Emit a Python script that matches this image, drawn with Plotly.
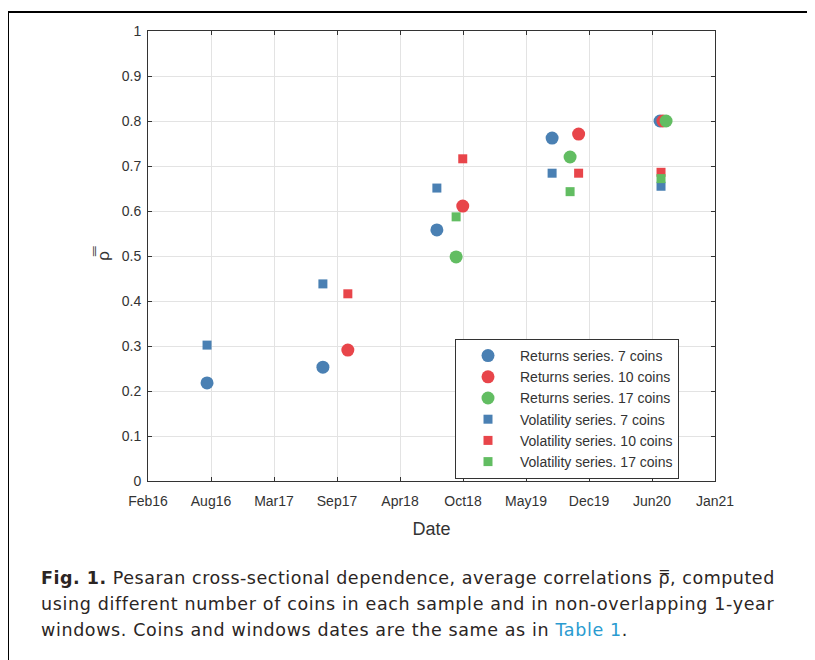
import plotly.graph_objects as go
import pandas as pd

# ---- data ----
ret7_dates = ["2016-08-06", "2017-08-08", "2018-08-04", "2019-08-04", "2020-07-11"]
ret7_vals = [0.218, 0.253, 0.558, 0.762, 0.800]
ret10_dates = ["2017-10-26", "2018-10-25", "2019-10-27", "2020-07-20"]
ret10_vals = [0.291, 0.611, 0.771, 0.800]
ret17_dates = ["2018-10-04", "2019-09-30", "2020-07-30"]
ret17_vals = [0.498, 0.720, 0.800]
vol7_dates = ["2016-08-06", "2017-08-08", "2018-08-04", "2019-08-04", "2020-07-14"]
vol7_vals = [0.302, 0.438, 0.651, 0.684, 0.655]
vol10_dates = ["2017-10-26", "2018-10-25", "2019-10-27", "2020-07-14"]
vol10_vals = [0.416, 0.716, 0.684, 0.686]
vol17_dates = ["2018-10-04", "2019-09-30", "2020-07-14"]
vol17_vals = [0.587, 0.643, 0.672]

x_tick_labels = ["Feb16", "Aug16", "Mar17", "Sep17", "Apr18", "Oct18",
                 "May19", "Dec19", "Jun20", "Jan21"]
x_start, x_end = "2016-02-01", "2021-01-01"

BLUE = "#4a80b3"
RED = "#e8454a"
GREEN = "#62bd62"
AX = "#333333"
FONT = "Liberation Sans, Arial, sans-serif"

series = [
    ("Returns series. 7 coins", ret7_dates, ret7_vals, BLUE, "circle", 13),
    ("Returns series. 10 coins", ret10_dates, ret10_vals, RED, "circle", 13),
    ("Returns series. 17 coins", ret17_dates, ret17_vals, GREEN, "circle", 13),
    ("Volatility series. 7 coins", vol7_dates, vol7_vals, BLUE, "square", 9),
    ("Volatility series. 10 coins", vol10_dates, vol10_vals, RED, "square", 9),
    ("Volatility series. 17 coins", vol17_dates, vol17_vals, GREEN, "square", 9),
]

fig = go.Figure()
for name, xs, ys, col, sym, size in series:
    fig.add_trace(go.Scatter(
        x=pd.to_datetime(xs), y=ys, mode="markers", name=name,
        marker=dict(color=col, symbol=sym, size=size, line=dict(width=0)),
    ))

tickvals = pd.date_range(x_start, x_end, periods=len(x_tick_labels))

fig.update_xaxes(
    type="date", range=[x_start, x_end],
    tickmode="array", tickvals=tickvals, ticktext=x_tick_labels,
    showline=True, linecolor=AX, linewidth=1, mirror="ticks",
    ticks="inside", ticklen=4, tickcolor=AX, ticklabelstandoff=7,
    showgrid=True, gridcolor="#e3e3e3", gridwidth=1, zeroline=False,
    tickfont=dict(family=FONT, size=14, color=AX),
    title=dict(text="Date", font=dict(family=FONT, size=18, color=AX), standoff=14),
)
fig.update_yaxes(
    range=[0, 1], dtick=0.1, tick0=0,
    showline=True, linecolor=AX, linewidth=1, mirror="ticks",
    ticks="inside", ticklen=4, tickcolor=AX, ticklabelstandoff=3,
    showgrid=True, gridcolor="#e3e3e3", gridwidth=1, zeroline=False,
    tickfont=dict(family=FONT, size=14, color=AX),
    title=dict(text="\u03c1\u033f", font=dict(family=FONT, size=17, color=AX), standoff=7),
)

# page body has an 8px margin; positions below are measured on the 815x660 page
OX, OY = 8, 8
W, H = 815 - OX, 660 - OY
L, R, T, B = 148 - OX, 715 - OX, 31 - OY, 481 - OY


def px(x):
    return (x - OX - L) / (R - L)


def py(y):
    return (B - (y - OY)) / (B - T)


fig.update_layout(
    width=W, height=H,
    margin=dict(l=L, r=W - R, t=T, b=H - B, pad=0),
    paper_bgcolor="white", plot_bgcolor="white",
    showlegend=True,
    legend=dict(
        x=px(455), y=py(339), xanchor="left", yanchor="top",
        bgcolor="white", bordercolor=AX, borderwidth=1,
        font=dict(family=FONT, size=14, color=AX),
        itemwidth=54, tracegroupgap=0,
    ),
    shapes=[
        dict(type="rect", xref="paper", yref="paper",
             x0=px(8), x1=px(840), y0=py(700), y1=py(12),
             line=dict(color="black", width=2), fillcolor="rgba(0,0,0,0)"),
    ],
)

CAP_FONT = "DejaVu Sans, sans-serif"
CAP_COL = "#2b2523"
caption_lines = [
    "<b>Fig. 1.</b> Pesaran cross-sectional dependence, average correlations "
    "\u03c1\u033f, computed",
    "using different number of coins in each sample and in non-overlapping 1-year",
    "windows. Coins and windows dates are the same as in "
    "<span style='color:#2a9bd0'>Table 1</span>.",
]
caption_spacing = [0.52, 0.65, 0.62]
caption_y = [578, 604, 630]
for txt, sp, yy in zip(caption_lines, caption_spacing, caption_y):
    fig.add_annotation(
        text=f"<span style='letter-spacing:{sp}px'>{txt}</span>",
        xref="paper", yref="paper", x=px(39), y=py(yy),
        xanchor="left", yanchor="middle", showarrow=False, align="left",
        font=dict(family=CAP_FONT, size=17.5, color=CAP_COL),
    )

fig.write_html("out.html")
